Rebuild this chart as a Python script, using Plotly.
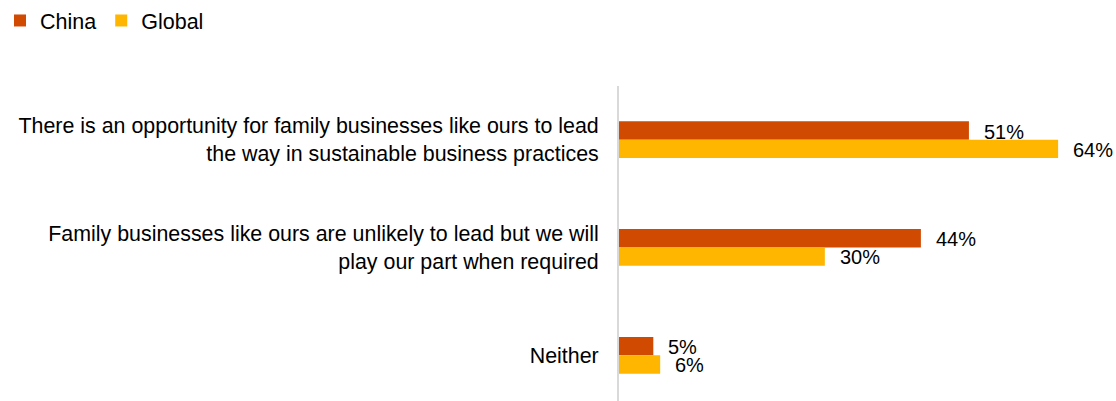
import plotly.graph_objects as go

# Survey statements (category axis) and share of respondents per region
categories = [
    "There is an opportunity for family businesses like ours to lead<br>the way in sustainable business practices",
    "Family businesses like ours are unlikely to lead but we will<br>play our part when required",
    "Neither",
]
china = [51, 44, 5]
global_ = [64, 30, 6]

series = [
    ("China", china, "#D04A02"),
    ("Global", global_, "#FFB600"),
]

FONT = "Liberation Sans, Arial, sans-serif"

fig = go.Figure()
for name, vals, color in series:
    fig.add_trace(go.Bar(
        name=name,
        y=categories,
        x=vals,
        orientation="h",
        marker=dict(color=color, line=dict(width=0)),
        hoverinfo="skip",
    ))

# Value labels placed just past the end of each bar
annotations = []
for (name, vals, color), yshift in zip(series, [8, -10]):
    for cat, v in zip(categories, vals):
        annotations.append(dict(
            x=v, y=cat, xref="x", yref="y",
            text=f"{v}%", showarrow=False,
            xanchor="left", yanchor="middle",
            xshift=13, yshift=yshift,
            font=dict(family=FONT, size=20, color="#000000"),
        ))

fig.update_layout(
    width=1116, height=401,
    margin=dict(l=618, r=3, t=84, b=0),
    paper_bgcolor="white", plot_bgcolor="white",
    barmode="group", bargap=0.659, bargroupgap=0,
    font=dict(family=FONT, size=20, color="#000000"),
    showlegend=True,
    legend=dict(
        orientation="h", x=-1.255, y=1.275, xanchor="left", yanchor="top",
        xref="paper", yref="paper",
        font=dict(family=FONT, size=21.5, color="#000000"),
        itemwidth=30, traceorder="normal",
        bgcolor="rgba(0,0,0,0)", tracegroupgap=0,
    ),
    annotations=annotations,
)
fig.update_xaxes(range=[0, 72], visible=False, showgrid=False, zeroline=False)
fig.update_yaxes(
    range=[2.424, -0.498],
    showline=True, linecolor="#D9D9D9", linewidth=2,
    showgrid=False, zeroline=False, ticks="",
    ticklabelstandoff=14,
    tickfont=dict(family=FONT, size=21.4, color="#000000"),
)

fig.write_html("out.html")
